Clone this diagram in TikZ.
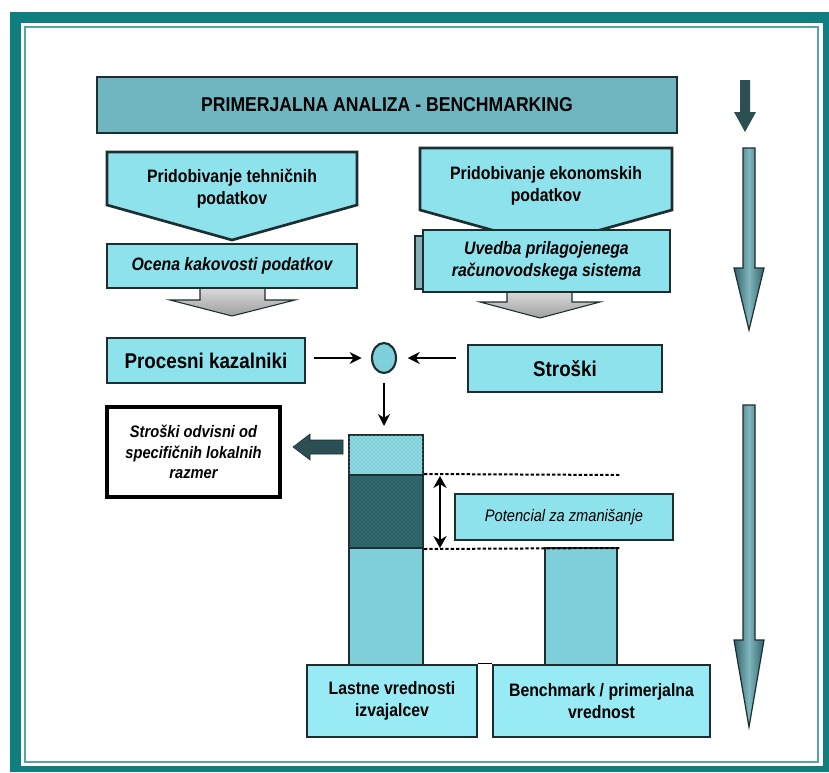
\documentclass[tikz,border=0pt]{standalone}
\usepackage{fontspec}
\setmainfont{Liberation Sans}[FakeStretch=0.88]
\usetikzlibrary{shapes.geometric,arrows.meta,patterns}
\definecolor{frameteal}{HTML}{0E7E7E}
\definecolor{boxcyan}{HTML}{8EE2EC}
\definecolor{lowcyan}{HTML}{98EAF4}
\definecolor{titlecyan}{HTML}{6FB6C0}
\definecolor{barcyan}{HTML}{7FD0DA}
\definecolor{darkhatch}{HTML}{2D6A70}
\definecolor{arrowteal}{HTML}{4B97A2}
\definecolor{darkteal}{HTML}{2B4F53}
\definecolor{edgecol}{HTML}{1C2E30}

\begin{document}
\begin{tikzpicture}[x=0.75pt,y=-0.75pt,
    box/.style={draw=edgecol, line width=2pt, fill=boxcyan, align=center, inner sep=0pt},
    barseg/.style={draw=edgecol, line width=1.5pt, minimum width=55.5pt, inner sep=0pt},
    link/.style={-{Stealth[length=9pt,width=9pt]}, line width=2pt},
    bigarrow/.style={draw=edgecol, line width=0.9pt, left color=arrowteal!65!black, right color=arrowteal!65!black, middle color=arrowteal!70!white},
    grayarrow/.style={draw=edgecol, line width=0.8pt, top color=gray!30, bottom color=gray!75}]
    \useasboundingbox (0,0) rectangle (829,772);

    % frame
    \fill[frameteal] (9.5,12) rectangle (829,772);
    \fill[white] (21,23) rectangle (823,766);
    \draw[frameteal!70, line width=1.2pt] (25,27) rectangle (818,762);

    % title
    \node[box, fill=titlecyan, minimum width=435pt, minimum height=42pt, font=\bfseries\fontsize{15}{18}\selectfont] (title) at (387,105) {PRIMERJALNA ANALIZA - BENCHMARKING};

    % arrows on the right
    \fill[darkteal] (740,80) -- (750,80) -- (750,112) -- (756,112) -- (745,132) -- (734,112) -- (740,112) -- cycle;
    \path[bigarrow] (743,148) -- (755,148) -- (755,268) -- (764,268) -- (749,330) -- (734,268) -- (743,268) -- cycle;
    \path[bigarrow] (743,405) -- (755,405) -- (755,640) -- (764,640) -- (749,727) -- (734,640) -- (743,640) -- cycle;

    % technical data
    \draw[line width=2pt, draw=edgecol, fill=boxcyan] (107,152) -- (357,152) -- (357,205) -- (232,240) -- (107,205) -- cycle;
    \node[align=center, font=\bfseries\fontsize{13.5}{16.5}\selectfont] (tehn) at (232,189) {Pridobivanje tehničnih\\podatkov};
    \path[grayarrow] (200,288) -- (265,288) -- (265,300) -- (295,300) -- (232,316) -- (170,300) -- (200,300) -- cycle;
    \node[box, minimum width=187.5pt, minimum height=33pt, font=\bfseries\itshape\fontsize{13.5}{16}\selectfont] (ocena) at (232,266) {Ocena kakovosti podatkov};

    % economic data
    \draw[line width=2pt, draw=edgecol, fill=boxcyan] (420,148) -- (672,148) -- (672,210) -- (546,245) -- (420,210) -- cycle;
    \node[align=center, font=\bfseries\fontsize{13.5}{16.5}\selectfont] (ekon) at (546,186) {Pridobivanje ekonomskih\\podatkov};
    \path[grayarrow] (507,292) -- (572,292) -- (572,302) -- (600,302) -- (540,318) -- (480,302) -- (507,302) -- cycle;
    \draw[draw=edgecol, fill=gray!50!boxcyan, line width=1.4pt] (415,236) rectangle (600,289);
    \node[box, minimum width=185.25pt, minimum height=46.5pt, font=\bfseries\itshape\fontsize{13.5}{16.5}\selectfont] (uved) at (546.5,261) {Uvedba prilagojenega\\računovodskega sistema};

    % indicators and costs
    \node[box, minimum width=148.5pt, minimum height=33.75pt, font=\bfseries\fontsize{16}{19}\selectfont] (proc) at (206,360.5) {Procesni kazalniki};
    \node[box, minimum width=145.5pt, minimum height=35.25pt, font=\bfseries\fontsize{16}{19}\selectfont] (stro) at (565,368.5) {Stroški};
    \node[ellipse, draw=edgecol, line width=1.6pt, fill=barcyan, minimum width=18pt, minimum height=22.5pt, inner sep=0pt] (dot) at (384,358) {};
    \draw[link, shorten <=6pt, shorten >=7pt] (proc.east |- dot) -- (dot);
    \draw[link, shorten <=8pt, shorten >=8pt] (stro.west |- dot) -- (dot);

    % own values bar
    \node[barseg, fill=barcyan, postaction={pattern=crosshatch dots, pattern color=white!60!barcyan}, minimum height=30pt] (bartop) at (386,455) {};
    \node[barseg, fill=darkhatch, postaction={pattern=crosshatch dots, pattern color=black!75}, minimum height=54.75pt] (barmid) at (386,511.5) {};
    \node[barseg, fill=barcyan, minimum height=87.75pt] (barlow) at (386,606.5) {};
    \node[barseg, fill=barcyan, minimum width=54pt, minimum height=87.75pt] (barbm) at (581,606.5) {};
    \draw[link, shorten <=7pt, shorten >=6pt] (dot) -- (dot |- bartop.north);

    % local conditions
    \node[box, fill=white, draw=black, line width=2.4pt, minimum width=129.75pt, minimum height=67.5pt, font=\bfseries\itshape\fontsize{12.5}{15.5}\selectfont] (odv) at (193.5,452) {Stroški odvisni od\\specifičnih lokalnih\\razmer};
    \fill[darkteal, draw=edgecol] (343,440) -- (310,440) -- (310,434) -- (293,447) -- (310,460) -- (310,454) -- (343,454) -- cycle;

    % reduction potential
    \coordinate (dashtop) at (620,475);
    \coordinate (dashlow) at (620,548);
    \coordinate (pottop) at (440,476);
    \coordinate (potlow) at (440,548);
    \draw[dashed, line width=1.5pt, dash pattern=on 2.5pt off 1.5pt] (barmid.north east) -- (dashtop);
    \draw[dashed, line width=1.5pt, dash pattern=on 2.5pt off 1.5pt] (barmid.south east) -- (dashlow);
    \draw[{Stealth[length=9pt,width=10pt]}-{Stealth[length=9pt,width=10pt]}, line width=2pt] (pottop) -- (potlow);
    \node[box, minimum width=163.5pt, minimum height=34.5pt, font=\itshape\fontsize{12.5}{15}\selectfont] (pot) at (564,517) {Potencial za zmanišanje};

    % values
    \node[box, fill=lowcyan, minimum width=127.5pt, minimum height=54pt, font=\bfseries\fontsize{13.5}{16.5}\selectfont] (lastne) at (392,701) {Lastne vrednosti\\izvajalcev};
    \node[box, fill=lowcyan, minimum width=162.75pt, minimum height=54pt, font=\bfseries\fontsize{13.5}{16.5}\selectfont] (bench) at (601.5,701) {Benchmark / primerjalna\\vrednost};
    \draw[line width=1pt] (lastne.north east) -- (bench.north west);

\end{tikzpicture}
\end{document}
